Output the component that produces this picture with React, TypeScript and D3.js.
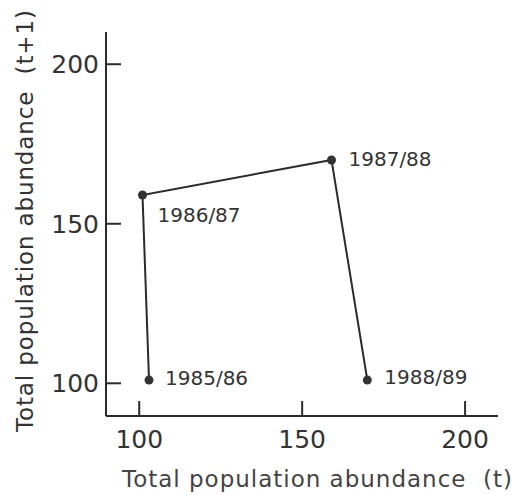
import React from "react";
import * as d3 from "d3";

const seasons = ["1985/86", "1986/87", "1987/88", "1988/89"];
const abundanceT = [103, 101, 159, 170];
const abundanceT1 = [101, 159, 170, 101];
const xTicks = [100, 150, 200];
const yTicks = [100, 150, 200];
const labelOffsets: [number, number][] = [
  [16, 5],
  [15, 27],
  [17, 6],
  [17, 4],
];

const W = 512;
const H = 495;
const left = 106;
const right = 498;
const top = 32;
const bottom = 416;
const FONT = "'DejaVu Sans', sans-serif";
const INK = "#2b2b2b";

export default function App() {
  const x = d3.scaleLinear().domain([89.8, 210.1]).range([left, right]);
  const y = d3.scaleLinear().domain([89.75, 210.1]).range([bottom, top]);
  const pts = abundanceT.map((v, i) => [x(v), y(abundanceT1[i])] as [number, number]);
  const line = d3.line()(pts) || "";
  return (
    <svg
      width={W}
      height={H}
      style={{ position: "absolute", left: 0, top: 0, background: "#fff" }}
      fontFamily={FONT}
    >
      <rect width={W} height={H} fill="#fff" />
      <line x1={left} x2={left} y1={top} y2={bottom} stroke={INK} strokeWidth={2} />
      <line x1={left} x2={right} y1={bottom} y2={bottom} stroke={INK} strokeWidth={2} />
      {xTicks.map((t) => (
        <g key={"x" + t}>
          <line x1={x(t)} x2={x(t)} y1={bottom} y2={bottom - 15} stroke={INK} strokeWidth={2} />
          <text x={x(t)} y={448} textAnchor="middle" fontSize={25} fill="#333">
            {t}
          </text>
        </g>
      ))}
      {yTicks.map((t) => (
        <g key={"y" + t}>
          <line x1={left} x2={left + 15} y1={y(t)} y2={y(t)} stroke={INK} strokeWidth={2} />
          <text x={99} y={y(t)} dy="0.36em" textAnchor="end" fontSize={25} fill="#333">
            {t}
          </text>
        </g>
      ))}
      <text
        x={122}
        y={487}
        fontSize={23}
        fill="#444"
        xmlSpace="preserve"
        textLength={390}
        lengthAdjust="spacing"
      >
        Total population abundance  (t)
      </text>
      <text
        transform="translate(33,432) rotate(-90)"
        fontSize={23}
        fill="#333"
        xmlSpace="preserve"
        textLength={422}
        lengthAdjust="spacing"
      >
        Total population abundance  (t+1)
      </text>
      <path d={line} fill="none" stroke={INK} strokeWidth={2} />
      {pts.map((p, i) => (
        <g key={seasons[i]}>
          <circle cx={p[0]} cy={p[1]} r={4.5} fill="#333" />
          <text
            x={p[0] + labelOffsets[i][0]}
            y={p[1] + labelOffsets[i][1]}
            fontSize={20}
            fill="#333"
          >
            {seasons[i]}
          </text>
        </g>
      ))}
    </svg>
  );
}
